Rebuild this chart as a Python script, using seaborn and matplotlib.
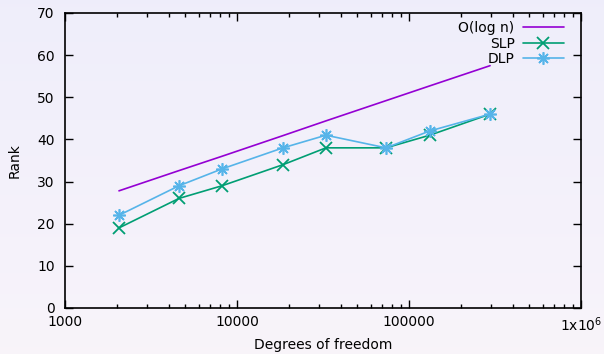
import numpy as np
import pandas as pd
import matplotlib
matplotlib.use('Agg')
import matplotlib.pyplot as plt
import matplotlib.ticker as mticker
import seaborn as sns

dofs = [2060, 4600, 8180, 18500, 32900, 73500, 132000, 296000]
slp = [19, 26, 29, 34, 38, 38, 41, 46]
dlp = [22, 29, 33, 38, 41, 38, 42, 46]
olog = [27.8, 32.6, 36.0, 40.9, 44.4, 49.2, 52.7, 57.5]

sns.set_style('ticks')
plt.rcParams['font.family'] = ['DejaVu Sans']
plt.rcParams['font.size'] = 10
plt.rcParams.update({'text.color': 'black', 'axes.labelcolor': 'black',
                     'xtick.color': 'black', 'ytick.color': 'black'})

fig = plt.figure(figsize=(6.04, 3.54), dpi=100)

# soft lavender background gradient
bg = fig.add_axes([0, 0, 1, 1], zorder=-10)
top = np.array([0.937, 0.933, 0.984])
bot = np.array([0.973, 0.957, 0.980])
grad = np.linspace(0, 1, 100)[:, None, None] * (bot - top) + top
bg.imshow(np.repeat(grad, 2, axis=1), aspect='auto', extent=[0, 1, 0, 1])
bg.axis('off')

ax = fig.add_axes([0.1076, 0.13, 0.8543, 0.8333])
ax.patch.set_alpha(0)

df = pd.DataFrame({'dof': dofs, 'SLP': slp, 'DLP': dlp, 'O(log n)': olog})

sns.lineplot(data=df, x='dof', y='O(log n)', ax=ax, color='#9400d3',
             lw=1.2, label='O(log n)')
sns.lineplot(data=df, x='dof', y='SLP', ax=ax, color='#009e73', lw=1.2,
             marker='x', markersize=8, mew=1.3, mec='#009e73', label='SLP')
sns.lineplot(data=df, x='dof', y='DLP', ax=ax, color='#56b4e9', lw=1.2,
             marker=(8, 2, 0), markersize=9, mew=1.2, mec='#56b4e9',
             label='DLP')

ax.set_xscale('log')
ax.set_xlim(1000, 1e6)
ax.set_ylim(0, 70)
ax.set_xticks([1e3, 1e4, 1e5, 1e6])
ax.set_xticklabels(['1000', '10000', '100000', r'1x10$^6$'])
ax.xaxis.set_minor_locator(mticker.LogLocator(base=10, subs=np.arange(2, 10)))
ax.xaxis.set_minor_formatter(mticker.NullFormatter())
ax.set_yticks(range(0, 71, 10))
ax.tick_params(which='both', direction='in', top=True, right=True,
               labelsize=10, width=1)
ax.tick_params(which='major', length=6)
ax.tick_params(which='minor', length=3)
ax.tick_params(axis='x', pad=5)
ax.tick_params(axis='y', pad=7.5)
for s in ax.spines.values():
    s.set_linewidth(1.2)
    s.set_color('black')

ax.set_xlabel('Degrees of freedom', fontsize=10, labelpad=3)
ax.set_ylabel('Rank', fontsize=10, labelpad=11)

leg = ax.legend(loc='upper right', bbox_to_anchor=(0.983, 1.0),
                frameon=False, markerfirst=False, handlelength=2.95,
                borderaxespad=0.2, labelspacing=0.1, fontsize=10,
                handletextpad=0.6)
for t in leg.get_texts():
    t.set_ha('right')

fig.savefig('out.png', dpi=100)
